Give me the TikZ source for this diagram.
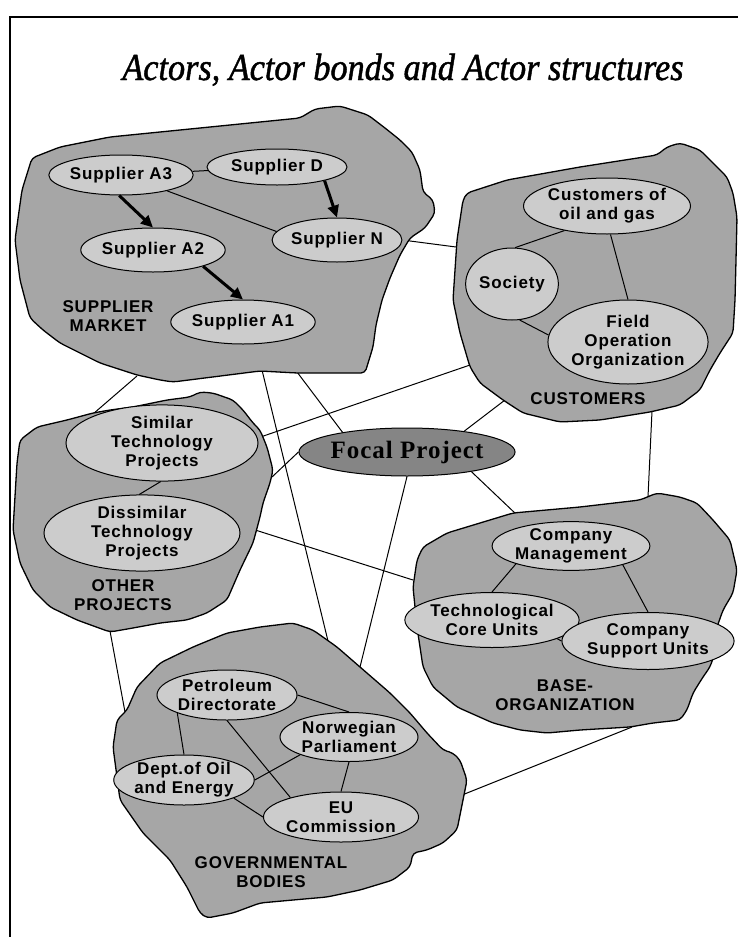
\documentclass[tikz,border=0pt]{standalone}
\usepackage{fontspec}
\setmainfont{Liberation Sans}
\newfontfamily\labelfont{Liberation Sans}[LetterSpace=5]
\newfontfamily\titlefont{Liberation Serif}[FakeBold=1.3]
\newfontfamily\focalfont{Liberation Serif}[LetterSpace=4]
\usetikzlibrary{shapes.geometric,arrows.meta}
\pgfdeclarelayer{paper}
\pgfdeclarelayer{links}
\pgfdeclarelayer{blobs}
\pgfsetlayers{paper,links,blobs,main}

\tikzset{
  actor/.style={ellipse, draw=black, line width=1pt, fill=black!20, inner sep=0pt,
    align=center, font=\labelfont\bfseries\fontsize{17}{19}\selectfont},
  sz/.style 2 args={minimum width=#1, minimum height=#2},
  region/.style={draw=black, line width=1.3pt, fill=black!35, rounded corners=4pt},
  regionlabel/.style={align=center, inner sep=0pt,
    font=\labelfont\bfseries\fontsize{17}{19}\selectfont},
  bond/.style={line width=1pt},
  flow/.style={line width=3pt, -{Triangle[length=12pt,width=11pt]}},
}

\begin{document}
\begin{tikzpicture}[x=1pt, y=-1pt]
\useasboundingbox (0,0) rectangle (738,937);
\begin{pgfonlayer}{paper}
\fill[white] (0,0) rectangle (738,937);
\end{pgfonlayer}

% frame
\draw[line width=2pt] (738,17) -- (10,17) -- (10,937);

% title
\node[anchor=base, inner sep=0pt, font=\titlefont\itshape\fontsize{38}{42}\selectfont]
  (title) at (403,80) {\scalebox{0.9}[1]{Actors, Actor bonds and Actor structures}};

% ---------- supplier market ----------
\node[actor, sz={138}{40}] (a3) at (121,175) {Supplier A3};
\node[actor, sz={140}{36}] (sd) at (277,167) {Supplier D};
\node[actor, sz={128}{44}] (sn) at (337,240) {Supplier N};
\node[actor, sz={136}{44}] (a2) at (153,250) {Supplier A2};
\node[actor, sz={140}{44}] (a1) at (243,322) {Supplier A1};
\node[regionlabel] (lsup) at (108,316) {SUPPLIER\\MARKET};

% ---------- customers ----------
\node[actor, sz={148}{56}] (cog) at (607,206) {Customers of\\oil and gas};
\node[actor, sz={88}{72}] (soc) at (512,284) {Society};
\node[actor, sz={140}{84}] (foo) at (628,342) {Field\\Operation\\Organization};
\node[regionlabel] (lcus) at (588,399) {CUSTOMERS};

% ---------- other projects ----------
\node[actor, sz={192}{62}] (st) at (162,443) {Similar\\Technology\\Projects};
\node[actor, sz={196}{70}] (dt) at (142,533) {Dissimilar\\Technology\\Projects};
\node[regionlabel] (loth) at (123,595) {OTHER\\PROJECTS};

% ---------- focal project ----------
\node[actor, sz={188}{48}, fill=black!48,
  font=\focalfont\bfseries\fontsize{25}{28}\selectfont] (fp) at (407,452) {Focal Project};

% ---------- base organization ----------
\node[actor, sz={142}{48}] (cm) at (571,546) {Company\\Management};
\node[actor, sz={146}{55}] (tcu) at (492,620) {Technological\\Core Units};
\node[actor, sz={134}{57}] (csu) at (648,641) {Company\\Support Units};
\node[regionlabel] (lbase) at (565,695) {BASE-\\ORGANIZATION};

% ---------- governmental bodies ----------
\node[actor, sz={140}{50}] (pd) at (227,695) {Petroleum\\Directorate};
\node[actor, sz={138}{49}] (np) at (349,737) {Norwegian\\Parliament};
\node[actor, sz={138}{50}] (doe) at (184,780) {Dept.of Oil\\and Energy};
\node[actor, sz={138}{50}] (eu) at (341,817) {EU\\Commission};
\node[regionlabel] (lgov) at (271,872) {GOVERNMENTAL\\BODIES};

% ---------- end points of the bonds between regions ----------
\coordinate (k1) at (456,247);
\coordinate (k2a) at (137,376);  \coordinate (k2b) at (93,414);
\coordinate (k3a) at (262,370);  \coordinate (k3b) at (328,641);
\coordinate (k4) at (297,372);
\coordinate (k5) at (470,365);
\coordinate (k6) at (272,477);
\coordinate (k7) at (505,400);
\coordinate (k8) at (517,515);
\coordinate (k9) at (360,667);
\coordinate (k10) at (413,580);
\coordinate (k11a) at (110,631); \coordinate (k11b) at (125,712);
\coordinate (k12a) at (652,411); \coordinate (k12b) at (648,497);
\coordinate (k13a) at (462,795); \coordinate (k13b) at (632,727);

% bonds between regions, behind the regions
\begin{pgfonlayer}{links}
\draw[bond] (sn.east) -- (k1);
\draw[bond] (k2a) -- (k2b);
\draw[bond] (k3a) -- (k3b);
\draw[bond] (k4) -- (fp.163);
\draw[bond] (st.3) -- (k5);
\draw[bond] (k6) -- (fp.west);
\draw[bond] (fp.20) -- (k7);
\draw[bond] (fp.-17) -- (k8);
\draw[bond] (fp.south) -- (k9);
\draw[bond] (dt.5) -- (k10);
\draw[bond] (k11a) -- (k11b);
\draw[bond] (k12a) -- (k12b);
\draw[bond] (k13a) -- (k13b);
\end{pgfonlayer}

% regions
\begin{pgfonlayer}{blobs}
% supplier market
\draw[region] (32,158) -- (60,147) -- (110,137) -- (200,128) -- (300,118) -- (315,109)
  -- (340,106) -- (368,115) -- (385,128) -- (400,140) -- (412,152) -- (420,170)
  -- (423,192) -- (433,200) -- (435,213) -- (425,228) -- (410,238) -- (400,255)
  -- (390,278) -- (382,300) -- (376,325) -- (373,347) -- (365,373) -- (297,373)
  -- (260,371) -- (173,382) -- (160,380) -- (137,375) -- (100,363) -- (60,343)
  -- (43,330) -- (30,318) -- (20,280) -- (15,240) -- (22,190) -- cycle;
% customers
\draw[region] (467,193) -- (507,180) -- (580,167) -- (657,155) -- (667,147) -- (680,143)
  -- (700,150) -- (713,163) -- (727,177) -- (733,193) -- (737,217) -- (736,260)
  -- (735,300) -- (733,333) -- (720,353) -- (710,370) -- (700,390) -- (680,405)
  -- (650,412) -- (600,420) -- (560,422) -- (523,413) -- (503,400) -- (480,383)
  -- (470,367) -- (460,333) -- (453,300) -- (457,240) -- (463,200) -- cycle;
% other projects
\draw[region] (93,413) -- (67,420) -- (37,427) -- (20,440) -- (17,463) -- (13,530)
  -- (20,563) -- (33,590) -- (50,607) -- (77,620) -- (110,632) -- (133,628)
  -- (160,623) -- (187,620) -- (207,613) -- (227,600) -- (240,570) -- (253,543)
  -- (260,517) -- (263,503) -- (270,483) -- (273,470) -- (267,447) -- (260,430)
  -- (253,423) -- (243,410) -- (233,400) -- (213,393) -- (200,392) -- (190,397)
  -- (167,400) -- (133,407) -- (110,410) -- cycle;
% base organization
\draw[region] (423,547) -- (447,533) -- (513,513) -- (580,507) -- (640,500) -- (657,493)
  -- (680,497) -- (697,503) -- (713,520) -- (730,540) -- (737,570) -- (733,593)
  -- (723,610) -- (717,627) -- (717,647) -- (710,667) -- (703,677) -- (693,693)
  -- (687,710) -- (680,720) -- (653,723) -- (630,727) -- (580,730) -- (547,733)
  -- (520,730) -- (493,723) -- (457,707) -- (433,687) -- (423,667) -- (417,627)
  -- (413,587) -- (417,560) -- cycle;
% governmental bodies
\draw[region] (127,710) -- (117,720) -- (113,747) -- (117,777) -- (120,800) -- (143,833)
  -- (170,860) -- (187,887) -- (200,913) -- (207,918) -- (233,913) -- (260,903)
  -- (293,900) -- (327,897) -- (360,890) -- (393,880) -- (410,867) -- (413,853)
  -- (427,850) -- (443,843) -- (457,830) -- (463,800) -- (467,780) -- (460,760)
  -- (453,753) -- (443,750) -- (427,733) -- (410,713) -- (390,693) -- (360,667)
  -- (337,647) -- (313,630) -- (293,623) -- (260,627) -- (227,633) -- (193,647)
  -- (160,663) -- (137,687) -- cycle;
\end{pgfonlayer}

% ---------- bonds inside the regions ----------
\draw[flow] (a3.-95) -- (a2.north);
\draw[flow] (sd.-16) -- (sn.north);
\draw[flow] (a2.-18) -- (a1.north);
\draw[bond] (a3) -- (sd);
\draw[bond] (a3.-19) -- (sn.172);

\draw[bond] (cog.-150) -- (soc.85);
\draw[bond] (cog.-83) -- (foo.north);
\draw[bond] (soc.-78) -- (foo.175);

\draw[bond] (st.-92) -- (dt.94);

\draw[bond] (cm.-162) -- (tcu.north);
\draw[bond] (cm.-20) -- (csu.north);
\draw[bond] (tcu.-16) -- (csu.west);

\draw[bond] (pd.east) -- (np.north);
\draw[bond] (pd.-160) -- (doe.north);
\draw[bond] (pd.south) -- (eu.159);
\draw[bond] (np.-160) -- (doe.east);
\draw[bond] (np.south) -- (eu.north);
\draw[bond] (doe.-20) -- (eu.west);
\end{tikzpicture}
\end{document}
